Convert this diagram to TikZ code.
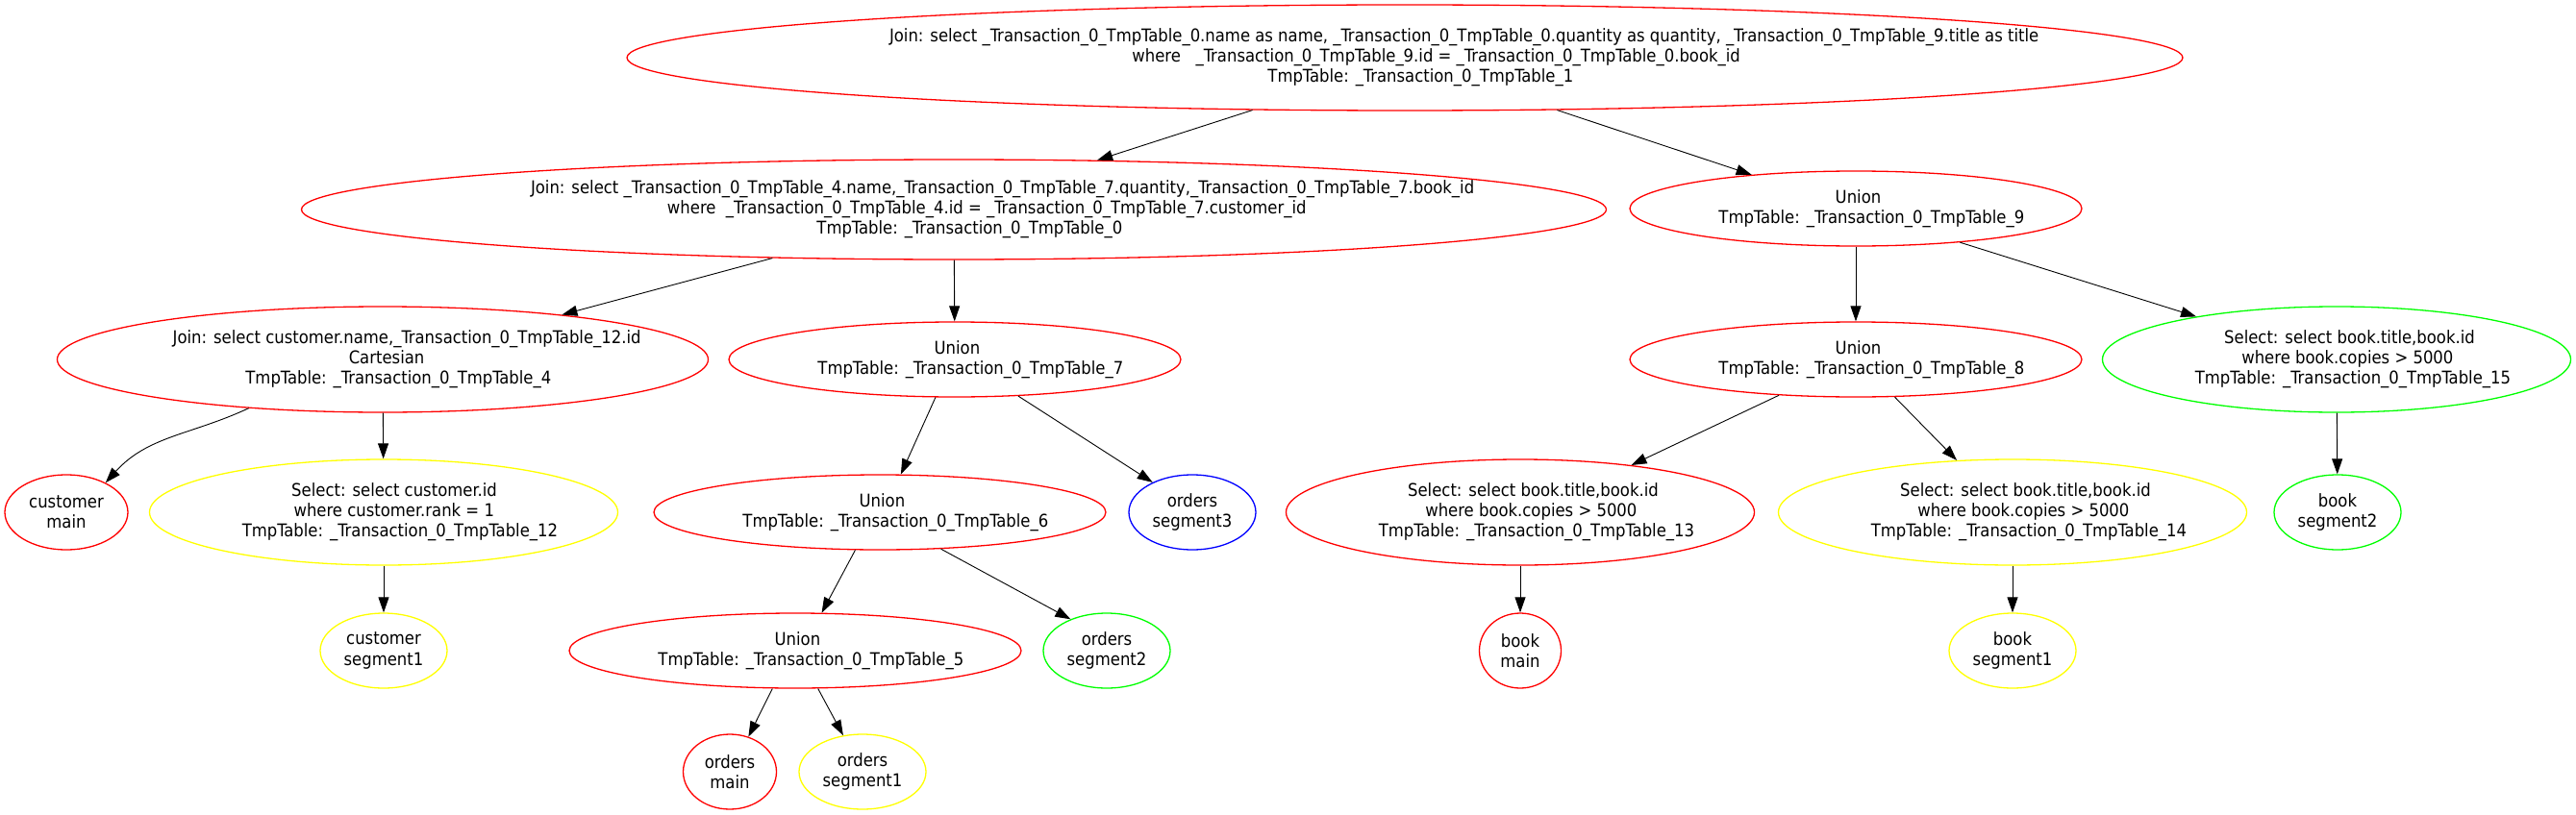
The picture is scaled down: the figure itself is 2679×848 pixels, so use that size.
\documentclass[tikz,border=0pt]{standalone}
\usepackage{fontspec}
\setmainfont{DejaVu Sans Condensed}
\usetikzlibrary{shapes.geometric,arrows.meta}
\definecolor{gvred}{RGB}{255,0,0}
\definecolor{gvyellow}{RGB}{255,255,0}
\definecolor{gvgreen}{RGB}{0,255,0}
\definecolor{gvblue}{RGB}{0,0,255}
\newlength\gvw
\newcommand\gvl[1]{\settowidth\gvw{#1}\makebox[0pt][l]{\hspace*{-0.4484\gvw}#1}}
\begin{document}
\begin{tikzpicture}[x=1pt,y=1pt,
  gv/.style={ellipse,draw,line width=1.3pt,inner sep=0pt,align=center,font=\fontsize{18.3}{21.2}\selectfont},
  redn/.style={gv,draw=gvred},
  yelln/.style={gv,draw=gvyellow},
  greenn/.style={gv,draw=gvgreen},
  bluen/.style={gv,draw=gvblue},
  unionn/.style={redn,minimum width=470,minimum height=78},
  selectn/.style={minimum width=487,minimum height=110},
  leafn/.style={minimum width=132,minimum height=78},
  edge/.style={draw=black,line width=0.9pt,-{Triangle[length=16pt,width=11pt]}}]
\useasboundingbox[fill=white] (0,0) rectangle (2679,-848);
% level 0
\node[redn,minimum width=1618,minimum height=110] (n1) at (1461,-60)
 {\gvl{Join: select \_Transaction\_0\_TmpTable\_0.name as name, \_Transaction\_0\_TmpTable\_0.quantity as quantity, \_Transaction\_0\_TmpTable\_9.title as title}\\\gvl{where\ \ \ \_Transaction\_0\_TmpTable\_9.id = \_Transaction\_0\_TmpTable\_0.book\_id}\\\gvl{TmpTable: \_Transaction\_0\_TmpTable\_1}};
% level 1
\node[redn,minimum width=1357,minimum height=104] (n0) at (992,-218)
 {\gvl{Join: select \_Transaction\_0\_TmpTable\_4.name,\_Transaction\_0\_TmpTable\_7.quantity,\_Transaction\_0\_TmpTable\_7.book\_id}\\\gvl{where\ \ \_Transaction\_0\_TmpTable\_4.id = \_Transaction\_0\_TmpTable\_7.customer\_id}\\\gvl{TmpTable: \_Transaction\_0\_TmpTable\_0}};
\node[unionn] (n9) at (1930,-217) {\gvl{Union}\\\gvl{TmpTable: \_Transaction\_0\_TmpTable\_9}};
% level 2
\node[redn,minimum width=677,minimum height=110] (n4) at (398,-374)
 {\gvl{Join: select customer.name,\_Transaction\_0\_TmpTable\_12.id}\\\gvl{Cartesian}\\\gvl{TmpTable: \_Transaction\_0\_TmpTable\_4}};
\node[unionn] (n7) at (993,-374) {\gvl{Union}\\\gvl{TmpTable: \_Transaction\_0\_TmpTable\_7}};
\node[unionn] (n8) at (1930,-374) {\gvl{Union}\\\gvl{TmpTable: \_Transaction\_0\_TmpTable\_8}};
\node[greenn,selectn] (n15) at (2430,-374)
 {\gvl{Select: select book.title,book.id}\\\gvl{where book.copies > 5000}\\\gvl{TmpTable: \_Transaction\_0\_TmpTable\_15}};
% level 3
\node[redn,minimum width=128,minimum height=78] (cmain) at (69,-533) {customer\\main};
\node[yelln,selectn] (n12) at (399,-533)
 {\gvl{Select: select customer.id}\\\gvl{where customer.rank = 1}\\\gvl{TmpTable: \_Transaction\_0\_TmpTable\_12}};
\node[unionn] (n6) at (915,-533) {\gvl{Union}\\\gvl{TmpTable: \_Transaction\_0\_TmpTable\_6}};
\node[bluen,leafn] (oseg3) at (1240,-533) {orders\\segment3};
\node[redn,selectn] (n13) at (1581,-533)
 {\gvl{Select: select book.title,book.id}\\\gvl{where book.copies > 5000}\\\gvl{TmpTable: \_Transaction\_0\_TmpTable\_13}};
\node[yelln,selectn] (n14) at (2093,-533)
 {\gvl{Select: select book.title,book.id}\\\gvl{where book.copies > 5000}\\\gvl{TmpTable: \_Transaction\_0\_TmpTable\_14}};
\node[greenn,leafn] (bseg2) at (2431,-533) {book\\segment2};
% level 4
\node[yelln,leafn] (cseg1) at (399,-677) {customer\\segment1};
\node[unionn] (n5) at (827,-677) {\gvl{Union}\\\gvl{TmpTable: \_Transaction\_0\_TmpTable\_5}};
\node[greenn,leafn] (oseg2) at (1151,-677) {orders\\segment2};
\node[redn,minimum width=85,minimum height=78] (bmain) at (1581,-677) {book\\main};
\node[yelln,leafn] (bseg1) at (2093,-677) {book\\segment1};
% level 5
\node[redn,minimum width=97,minimum height=78] (omain) at (759,-803) {orders\\main};
\node[yelln,leafn] (oseg1) at (897,-803) {orders\\segment1};
% edges
\draw[edge] (n1.199) -- (n0.19);
\draw[edge] (n1.-19) -- (n9.162);
\draw[edge] (n0.195) -- (n4.14);
\draw[edge] (n0) -- (n7);
\draw[edge] (n9) -- (n8);
\draw[edge] (n9.-18) -- (n15.163);
\draw[edge] (n4.200) to[out=205,in=48] (cmain.37);
\draw[edge] (n4) -- (n12);
\draw[edge] (n7.-117) -- (n6.61);
\draw[edge] (n7.-30) -- (oseg3.143);
\draw[edge] (n8.205) -- (n13.23);
\draw[edge] (n8.-44) -- (n14.137);
\draw[edge] (n15) -- (bseg2);
\draw[edge] (n12) -- (cseg1);
\draw[edge] (n6.-123) -- (n5.55);
\draw[edge] (n6.-31) -- (oseg2.139);
\draw[edge] (n13) -- (bmain);
\draw[edge] (n14) -- (bseg1);
\draw[edge] (n5.-121) -- (omain.62);
\draw[edge] (n5.-59) -- (oseg1.118);
\end{tikzpicture}
\end{document}
